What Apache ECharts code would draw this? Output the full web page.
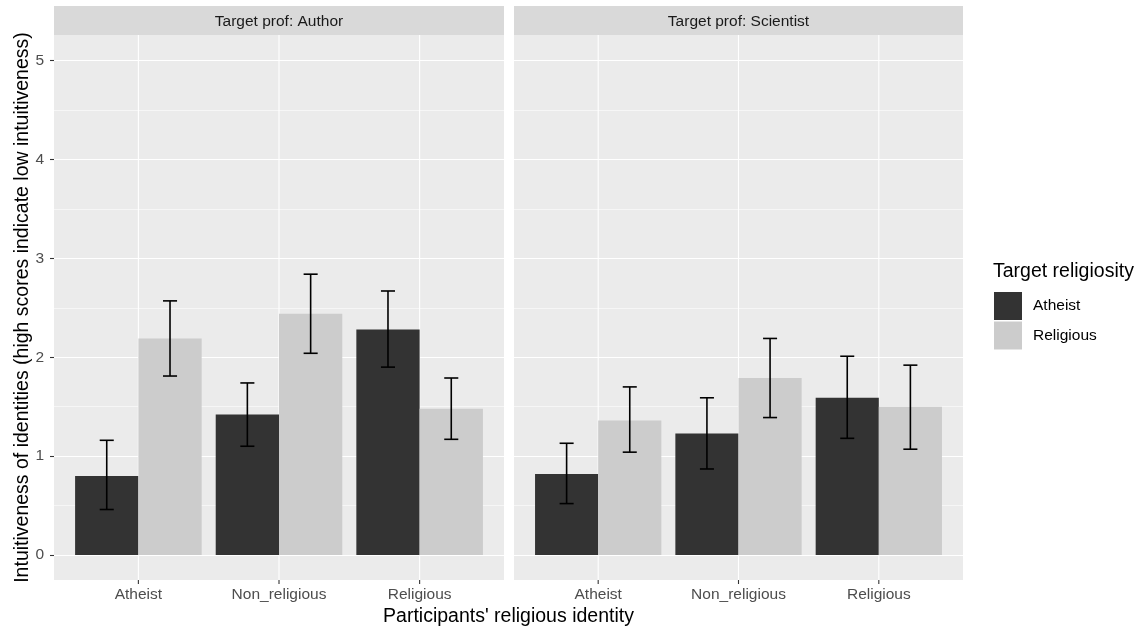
<!DOCTYPE html>
<html><head><meta charset="utf-8">
<script src="https://cdn.jsdelivr.net/npm/echarts@6/dist/echarts.min.js"></script>
<style>html,body{margin:0;padding:0;background:#fff}#c{width:1143px;height:632px}</style>
</head><body><div id="c"></div>
<script>
const categories = ['Atheist', 'Non_religious', 'Religious'];
const panelTitles = ['Target prof: Author', 'Target prof: Scientist'];
const groupNames = ['Atheist', 'Religious'];
const yTicks = [0, 1, 2, 3, 4, 5];

const authorAtheist = [0.80, 1.42, 2.28];
const authorAtheistLow = [0.46, 1.10, 1.90];
const authorAtheistHigh = [1.16, 1.74, 2.67];
const authorReligious = [2.19, 2.44, 1.48];
const authorReligiousLow = [1.81, 2.04, 1.17];
const authorReligiousHigh = [2.57, 2.84, 1.79];

const scientistAtheist = [0.82, 1.23, 1.59];
const scientistAtheistLow = [0.52, 0.87, 1.18];
const scientistAtheistHigh = [1.13, 1.59, 2.01];
const scientistReligious = [1.36, 1.79, 1.50];
const scientistReligiousLow = [1.04, 1.39, 1.07];
const scientistReligiousHigh = [1.70, 2.19, 1.92];

const FONT = '"Liberation Sans", Arial, Helvetica, sans-serif';
const COLORS = ['#333333', '#cccccc'];
const panels = [{x0: 54, x1: 504}, {x0: 514, x1: 963}];
const PANEL_TOP = 35, PANEL_BOTTOM = 580, STRIP_TOP = 6;
const GRID_TOP = 60.6, GRID_BOTTOM_PX = 555;

function barSeries(name, vals, side, idx, color) {
  return {
    type: 'custom', name: name, xAxisIndex: idx, yAxisIndex: idx, z: 3, clip: false,
    itemStyle: {color: color},
    data: vals.map((v, i) => [i + 1, v]),
    renderItem: function (params, api) {
      const x = api.value(0), v = api.value(1);
      const a = api.coord([side < 0 ? x - 0.45 : x, v]);
      const b = api.coord([side < 0 ? x : x + 0.45, 0]);
      return {type: 'rect', shape: {x: a[0], y: a[1], width: b[0] - a[0], height: b[1] - a[1]},
              style: {fill: color}};
    }
  };
}

function errSeries(lo, hi, side, idx) {
  return {
    type: 'custom', xAxisIndex: idx, yAxisIndex: idx, z: 4, silent: true, clip: false,
    data: lo.map((l, i) => [i + 1, l, hi[i]]),
    renderItem: function (params, api) {
      const x = api.value(0) + side * 0.225, l = api.value(1), h = api.value(2);
      const top = api.coord([x, h]), bot = api.coord([x, l]);
      const cl = api.coord([x - 0.05, h]), cr = api.coord([x + 0.05, h]);
      const st = {stroke: '#000', lineWidth: 1.6};
      return {type: 'group', children: [
        {type: 'line', shape: {x1: top[0], y1: top[1], x2: bot[0], y2: bot[1]}, style: st},
        {type: 'line', shape: {x1: cl[0], y1: top[1], x2: cr[0], y2: top[1]}, style: st},
        {type: 'line', shape: {x1: cl[0], y1: bot[1], x2: cr[0], y2: bot[1]}, style: st}
      ]};
    }
  };
}

// vertical major grid lines spanning the whole panel + x-axis tick marks below it
function vGridSeries(idx) {
  return {
    type: 'custom', xAxisIndex: idx, yAxisIndex: idx, z: 1, silent: true, clip: false,
    data: categories.map((c, i) => [i + 1, 0]),
    renderItem: function (params, api) {
      const a = api.coord([api.value(0), 0]);
      return {type: 'group', children: [
        {type: 'line', shape: {x1: a[0], y1: PANEL_TOP, x2: a[0], y2: PANEL_BOTTOM},
         style: {stroke: '#ffffff', lineWidth: 1.1}},
        {type: 'line', shape: {x1: a[0], y1: PANEL_BOTTOM, x2: a[0], y2: PANEL_BOTTOM + 4},
         style: {stroke: '#333333', lineWidth: 1.1}}
      ]};
    }
  };
}

const grids = panels.map(p => ({left: p.x0, right: 1143 - p.x1, top: GRID_TOP, bottom: 632 - GRID_BOTTOM_PX}));

const xAxes = panels.map((p, i) => ({
  gridIndex: i, type: 'value', min: 0.4, max: 3.6, offset: PANEL_BOTTOM - GRID_BOTTOM_PX,
  axisLine: {show: false}, splitLine: {show: false}, axisTick: {show: false},
  axisLabel: {customValues: [1, 2, 3], formatter: v => categories[Math.round(v) - 1] || '',
              color: '#4d4d4d', fontSize: 15.5, margin: 7, fontFamily: FONT}
}));

const yAxes = panels.map((p, i) => ({
  gridIndex: i, type: 'value', min: yTicks[0], max: yTicks[yTicks.length - 1], interval: 1,
  axisLine: {show: false},
  axisTick: {show: i === 0, length: 4, lineStyle: {color: '#333333', width: 1.1}},
  axisLabel: {show: i === 0, color: '#4d4d4d', fontSize: 15.5, margin: 10, fontFamily: FONT},
  splitLine: {show: true, lineStyle: {color: '#ffffff', width: 1.1}},
  minorTick: {show: false, splitNumber: 2},
  minorSplitLine: {show: true, lineStyle: {color: '#ffffff', width: 0.55}}
}));

const graphics = [];
panels.forEach((p, i) => {
  graphics.push({type: 'rect', z: -10, shape: {x: p.x0, y: PANEL_TOP, width: p.x1 - p.x0, height: PANEL_BOTTOM - PANEL_TOP},
                 style: {fill: '#ebebeb'}});
  graphics.push({type: 'rect', z: -10, shape: {x: p.x0, y: STRIP_TOP, width: p.x1 - p.x0, height: PANEL_TOP - STRIP_TOP},
                 style: {fill: '#d9d9d9'}});
  graphics.push({type: 'text', z: 10, x: (p.x0 + p.x1) / 2, y: 21.5,
                 style: {text: panelTitles[i], fill: '#1a1a1a', font: '15.5px ' + FONT, align: 'center', verticalAlign: 'middle'}});
});
graphics.push({type: 'text', z: 10, x: (panels[0].x0 + panels[1].x1) / 2, y: 617,
               style: {text: "Participants' religious identity", fill: '#000', font: '19.5px ' + FONT, align: 'center', verticalAlign: 'middle'}});
graphics.push({type: 'text', z: 10, x: 23, y: (PANEL_TOP + PANEL_BOTTOM) / 2, rotation: Math.PI / 2,
               style: {text: 'Intuitiveness of identities (high scores indicate low intuitiveness)', fill: '#000', font: '19.5px ' + FONT, align: 'center', verticalAlign: 'middle'}});

const series = [
  vGridSeries(0), vGridSeries(1),
  barSeries(groupNames[0], authorAtheist, -1, 0, COLORS[0]),
  barSeries(groupNames[1], authorReligious, 1, 0, COLORS[1]),
  barSeries(groupNames[0], scientistAtheist, -1, 1, COLORS[0]),
  barSeries(groupNames[1], scientistReligious, 1, 1, COLORS[1]),
  errSeries(authorAtheistLow, authorAtheistHigh, -1, 0),
  errSeries(authorReligiousLow, authorReligiousHigh, 1, 0),
  errSeries(scientistAtheistLow, scientistAtheistHigh, -1, 1),
  errSeries(scientistReligiousLow, scientistReligiousHigh, 1, 1)
];

const chart = echarts.init(document.getElementById('c'), null, {renderer: 'canvas'});
chart.setOption({
  animation: false,
  backgroundColor: '#ffffff',
  title: {text: 'Target religiosity', left: 993, top: 262, padding: 0,
          textStyle: {fontSize: 19.5, fontWeight: 'normal', color: '#000', fontFamily: FONT}},
  legend: {data: groupNames, orient: 'vertical', left: 994, top: 292, padding: 0,
           itemWidth: 28, itemHeight: 28, itemGap: 1.5, icon: 'rect', selectedMode: false,
           textStyle: {fontSize: 15.5, color: '#000', fontFamily: FONT, padding: [0, 0, 0, 6]}},
  grid: grids,
  xAxis: xAxes,
  yAxis: yAxes,
  graphic: {elements: graphics},
  series: series
});
</script></body></html>
